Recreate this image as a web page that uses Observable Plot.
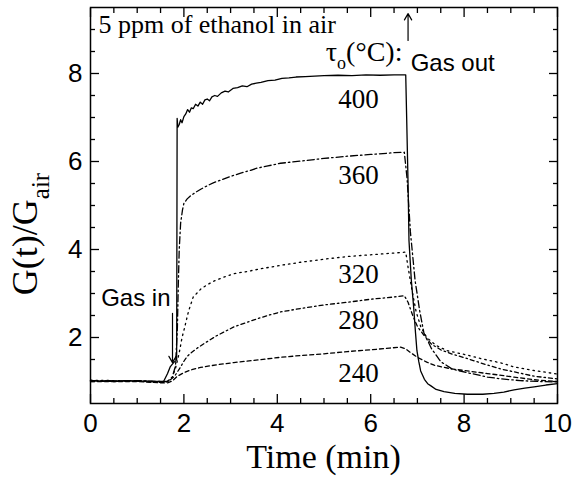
<!DOCTYPE html>
<html>
<head>
<meta charset="utf-8">
<script src="https://cdn.jsdelivr.net/npm/d3@7"></script>
<script src="https://cdn.jsdelivr.net/npm/@observablehq/plot@0.6"></script>
<style>
  body { margin: 0; background: #fff; }
  #chart svg { display: block; }
</style>
</head>
<body>
<div id="chart"></div>
<script>
// Response transients G(t)/G_air to 5 ppm ethanol, one series per operating temperature (°C)
const t400 = [0, 0.2, 0.4, 0.6, 0.8, 1.0, 1.2, 1.4, 1.5, 1.57, 1.65, 1.71, 1.78, 1.83, 1.845, 1.855, 1.87, 1.9, 1.93, 1.96, 2.0, 2.04, 2.08, 2.12, 2.16, 2.2, 2.25, 2.3, 2.35, 2.4, 2.45, 2.5, 2.55, 2.6, 2.66, 2.72, 2.8, 2.88, 2.95, 3.05, 3.15, 3.25, 3.35, 3.45, 3.55, 3.65, 3.8, 3.95, 4.1, 4.25, 4.4, 4.6, 4.8, 5.0, 5.3, 5.6, 5.9, 6.2, 6.5, 6.75, 6.77, 6.8, 6.82, 6.87, 6.92, 6.96, 6.99, 7.03, 7.07, 7.15, 7.22, 7.29, 7.4, 7.57, 7.8, 8.07, 8.4, 8.64, 8.85, 9.07, 9.3, 9.5, 9.75, 10];
const g400 = [1.02, 1.01, 1.02, 1.01, 1.02, 1.01, 1.01, 1.0, 1.0, 1.01, 1.18, 1.34, 1.43, 1.47, 1.5, 6.98, 6.78, 6.84, 6.95, 6.88, 7.02, 7.08, 7.18, 7.12, 7.22, 7.2, 7.3, 7.26, 7.35, 7.3, 7.4, 7.42, 7.38, 7.47, 7.5, 7.48, 7.56, 7.6, 7.58, 7.66, 7.68, 7.72, 7.7, 7.76, 7.78, 7.8, 7.84, 7.85, 7.89, 7.9, 7.92, 7.93, 7.94, 7.95, 7.96, 7.95, 7.97, 7.96, 7.97, 7.97, 7.0, 5.5, 4.2, 3.3, 2.69, 2.1, 1.7, 1.45, 1.24, 1.05, 0.95, 0.9, 0.82, 0.77, 0.73, 0.71, 0.71, 0.73, 0.76, 0.81, 0.85, 0.88, 0.92, 0.95];

const t360 = [0, 0.5, 1.0, 1.5, 1.65, 1.75, 1.82, 1.86, 1.88, 1.9, 1.93, 1.97, 2.0, 2.07, 2.14, 2.25, 2.36, 2.5, 2.64, 2.8, 3.0, 3.2, 3.43, 3.57, 3.8, 4.07, 4.5, 5.0, 5.5, 6.0, 6.5, 6.72, 6.78, 6.85, 6.95, 7.05, 7.14, 7.3, 7.5, 7.75, 8.07, 8.5, 8.8, 9.2, 9.6, 10];
const g360 = [1.02, 1.01, 1.02, 1.0, 1.0, 1.1, 1.35, 2.2, 3.2, 4.0, 4.6, 4.9, 5.05, 5.15, 5.22, 5.3, 5.37, 5.45, 5.52, 5.58, 5.66, 5.73, 5.8, 5.85, 5.9, 5.96, 6.01, 6.07, 6.12, 6.16, 6.2, 6.21, 5.6, 4.4, 3.3, 2.6, 2.1, 1.75, 1.45, 1.28, 1.2, 1.1, 1.06, 1.02, 1.0, 0.99];

const t320 = [0, 0.5, 1.0, 1.5, 1.65, 1.75, 1.82, 1.9, 1.96, 2.0, 2.1, 2.2, 2.36, 2.5, 2.64, 2.85, 3.07, 3.35, 3.64, 4.07, 4.5, 5.0, 5.5, 6.0, 6.5, 6.75, 6.8, 6.88, 6.97, 7.07, 7.2, 7.4, 7.64, 8.07, 8.36, 8.8, 9.07, 9.5, 10];
const g320 = [1.03, 1.02, 1.02, 0.99, 1.0, 1.1, 1.3, 1.65, 2.0, 2.16, 2.6, 2.92, 3.1, 3.2, 3.28, 3.37, 3.45, 3.5, 3.56, 3.64, 3.71, 3.78, 3.84, 3.88, 3.92, 3.94, 3.6, 3.1, 2.6, 2.25, 2.0, 1.82, 1.7, 1.6, 1.52, 1.42, 1.33, 1.25, 1.17];

const t280 = [0, 0.5, 1.0, 1.5, 1.6, 1.7, 1.8, 1.9, 2.0, 2.07, 2.14, 2.3, 2.46, 2.7, 3.07, 3.5, 3.79, 4.07, 4.5, 5.0, 5.5, 6.0, 6.5, 6.72, 6.8, 6.9, 7.0, 7.14, 7.3, 7.5, 7.75, 8.07, 8.36, 8.8, 9.07, 9.5, 10];
const g280 = [1.01, 1.0, 1.01, 0.98, 0.98, 1.03, 1.12, 1.28, 1.46, 1.57, 1.64, 1.77, 1.88, 2.04, 2.24, 2.4, 2.5, 2.58, 2.66, 2.74, 2.8, 2.87, 2.92, 2.95, 2.8, 2.5, 2.25, 2.05, 1.85, 1.72, 1.62, 1.52, 1.42, 1.28, 1.22, 1.12, 1.06];

const t240 = [0, 0.5, 1.0, 1.5, 1.65, 1.75, 1.86, 2.0, 2.14, 2.36, 2.7, 3.07, 3.5, 4.07, 4.5, 5.0, 5.5, 6.0, 6.4, 6.64, 6.75, 6.85, 7.0, 7.2, 7.36, 7.71, 8.07, 8.5, 8.8, 9.07, 9.5, 10];
const g240 = [1.0, 1.0, 1.0, 0.97, 0.97, 1.01, 1.12, 1.2, 1.26, 1.32, 1.38, 1.43, 1.48, 1.55, 1.59, 1.63, 1.68, 1.72, 1.76, 1.78, 1.74, 1.66, 1.55, 1.44, 1.37, 1.29, 1.24, 1.18, 1.14, 1.1, 1.04, 1.0];

const temps = ["400", "360", "320", "280", "240"];
const xMajor = [0, 2, 4, 6, 8, 10];
const xMinor = [0.5, 1, 1.5, 2.5, 3, 3.5, 4.5, 5, 5.5, 6.5, 7, 7.5, 8.5, 9, 9.5];
const yMajor = [2, 4, 6, 8];
const yMinor = [1, 1.5, 2.5, 3, 3.5, 4.5, 5, 5.5, 6.5, 7, 7.5, 8.5, 9];

// assemble a long table: one row per sample
const seriesT = {"400": t400, "360": t360, "320": t320, "280": t280, "240": t240};
const seriesG = {"400": g400, "360": g360, "320": g320, "280": g280, "240": g240};
const rows = temps.flatMap(s => seriesT[s].map((t, i) => ({s, t, g: seriesG[s][i]})));

// line patterns per temperature
const dash = {"400": null, "360": "7,3,1.5,3", "320": "1.5,4", "280": "4,3,1.5,3", "240": "4,3"};

// where each temperature label sits
const labelPos = {"400": 7.42, "360": 5.68, "320": 3.44, "280": 2.39, "240": 1.19};

const serif = "'Liberation Serif', 'Times New Roman', serif";
const sans = "'Liberation Sans', Arial, sans-serif";

const chart = Plot.plot({
  width: 579,
  height: 477,
  marginLeft: 90,
  marginRight: 22,
  marginTop: 7,
  marginBottom: 74,
  style: {fontFamily: sans, fontSize: "26px", color: "#000", background: "#fff"},
  x: {domain: [0, 10]},
  y: {domain: [0.5, 9.5]},
  marks: [
    // inward ticks on all four sides
    Plot.axisX(xMajor, {anchor: "bottom", tickSize: -9, fill: "none", label: null, strokeWidth: 1.3}),
    Plot.axisX(xMinor, {anchor: "bottom", tickSize: -5, fill: "none", label: null, strokeWidth: 1.3}),
    Plot.axisX(xMajor, {anchor: "top", tickSize: -9, fill: "none", label: null, strokeWidth: 1.3}),
    Plot.axisX(xMinor, {anchor: "top", tickSize: -5, fill: "none", label: null, strokeWidth: 1.3}),
    Plot.axisY(yMajor, {anchor: "left", tickSize: -9, fill: "none", label: null, strokeWidth: 1.3}),
    Plot.axisY(yMinor, {anchor: "left", tickSize: -5, fill: "none", label: null, strokeWidth: 1.3}),
    Plot.axisY(yMajor, {anchor: "right", tickSize: -9, fill: "none", label: null, strokeWidth: 1.3}),
    Plot.axisY(yMinor, {anchor: "right", tickSize: -5, fill: "none", label: null, strokeWidth: 1.3}),
    // tick labels
    Plot.axisX(xMajor, {anchor: "bottom", tickSize: 0, tickPadding: 10, label: null, fontSize: 26}),
    Plot.axisY(yMajor, {anchor: "left", tickSize: 0, tickPadding: 8, label: null, fontSize: 26}),
    Plot.frame({stroke: "#000", strokeWidth: 1.5}),
    // response curves
    ...temps.map(s => Plot.line(rows.filter(d => d.s === s), {
      x: "t", y: "g", stroke: "#000", strokeWidth: 1.3,
      strokeDasharray: dash[s], curve: "linear"
    })),
    // temperature labels
    Plot.text(temps, {x: () => 5.74, y: s => labelPos[s], text: s => s,
      fontFamily: serif, fontSize: 27, textAnchor: "middle", lineAnchor: "middle"}),
    Plot.text(["5 ppm of ethanol in air"], {x: () => 0.17, y: () => 9.1, text: d => d,
      fontFamily: serif, fontSize: 26, textAnchor: "start", lineAnchor: "middle"}),
    Plot.text(["Gas in"], {x: () => 1.714, y: () => 2.9, text: d => d,
      fontFamily: sans, fontSize: 24, textAnchor: "end", lineAnchor: "middle"}),
    Plot.text(["Gas out"], {x: () => 6.855, y: () => 8.24, text: d => d,
      fontFamily: sans, fontSize: 24, textAnchor: "start", lineAnchor: "middle"}),
    Plot.arrow([0], {x1: 1.756, y1: 2.55, x2: 1.756, y2: 1.43, stroke: "#000",
      strokeWidth: 1.2, headLength: 9, bend: 0}),
    Plot.arrow([0], {x1: 6.8, y1: 8.75, x2: 6.8, y2: 9.36, stroke: "#000",
      strokeWidth: 1.2, headLength: 9, bend: 0})
  ]
});

const svg = d3.select(chart);
const sx = chart.scale("x").apply;

// x axis title
svg.append("text")
  .attr("x", (sx(0) + sx(10)) / 2).attr("y", 468)
  .attr("text-anchor", "middle")
  .style("font-family", serif).style("font-size", "34px")
  .text("Time (min)");

// y axis title with subscript
const yt = svg.append("text")
  .attr("transform", "translate(37,234) rotate(-90)")
  .attr("text-anchor", "middle")
  .style("font-family", serif).style("font-size", "36px");
yt.append("tspan").text("G(t)/G");
yt.append("tspan").attr("dy", 12).style("font-size", "25px").text("air");

// legend heading: tau_o (°C):
const tau = svg.append("text")
  .attr("x", sx(6.69)).attr("y", 61)
  .attr("text-anchor", "end")
  .style("font-family", serif).style("font-size", "28px");
tau.append("tspan").text("τ");
tau.append("tspan").attr("dy", 8).style("font-size", "18px").text("o");
tau.append("tspan").attr("dy", -8).text("(°C):");

document.getElementById("chart").appendChild(chart);
</script>
</body>
</html>
